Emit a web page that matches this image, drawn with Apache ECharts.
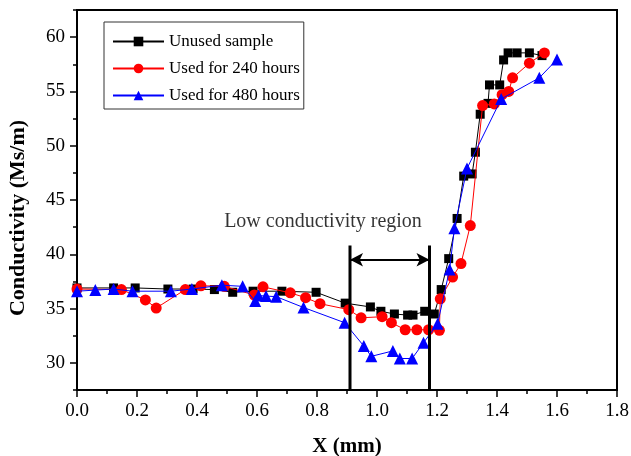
<!DOCTYPE html>
<html><head><meta charset="utf-8">
<script src="https://cdn.jsdelivr.net/npm/echarts@6/dist/echarts.min.js"></script>
<style>html,body{margin:0;padding:0;background:#fff}#c{width:631px;height:456px}</style>
</head><body><div id="c"></div>
<script>
// ---- data ----
const seriesNames = ['Unused sample', 'Used for 240 hours', 'Used for 480 hours'];

const unusedX = [0, 0.122, 0.194, 0.303, 0.387, 0.458, 0.519, 0.587, 0.683, 0.797, 0.894, 0.978, 1.013, 1.058, 1.102, 1.12, 1.159, 1.191, 1.214, 1.239, 1.267, 1.289, 1.317, 1.328, 1.344, 1.370, 1.375, 1.409, 1.422, 1.437, 1.467, 1.508, 1.55];
const unusedY = [36.9, 36.9, 36.9, 36.8, 36.8, 36.75, 36.5, 36.6, 36.6, 36.5, 35.5, 35.15, 34.75, 34.5, 34.4, 34.4, 34.75, 34.5, 36.75, 39.6, 43.3, 47.2, 47.4, 49.4, 52.9, 53.9, 55.6, 55.6, 57.9, 58.55, 58.55, 58.55, 58.3];

const used240X = [0, 0.148, 0.228, 0.264, 0.361, 0.413, 0.491, 0.591, 0.62, 0.711, 0.762, 0.81, 0.906, 0.947, 1.017, 1.048, 1.094, 1.133, 1.172, 1.208, 1.211, 1.252, 1.28, 1.311, 1.352, 1.391, 1.417, 1.439, 1.452, 1.508, 1.558];
const used240Y = [36.8, 36.75, 35.8, 35.05, 36.75, 37.1, 37.05, 36.25, 37.0, 36.45, 36.0, 35.45, 34.9, 34.15, 34.25, 33.7, 33.05, 33.05, 33.05, 33.0, 35.9, 37.9, 39.15, 42.65, 53.7, 53.85, 54.7, 55.0, 56.25, 57.6, 58.55];

const used480X = [0, 0.061, 0.122, 0.185, 0.313, 0.383, 0.483, 0.552, 0.594, 0.605, 0.63, 0.664, 0.755, 0.892, 0.956, 0.981, 1.053, 1.076, 1.117, 1.155, 1.202, 1.242, 1.258, 1.3, 1.414, 1.541, 1.6];
const used480Y = [36.6, 36.7, 36.8, 36.6, 36.6, 36.8, 37.15, 37.05, 35.7, 36.2, 36.15, 36.1, 35.1, 33.7, 31.55, 30.6, 31.1, 30.4, 30.4, 31.85, 33.6, 38.6, 42.4, 47.9, 54.3, 56.25, 57.95];

const xRange = [0, 1.8];
const xStep = 0.2;
const yRange = [27.5, 62.5];
const yTickValues = [30, 35, 40, 45, 50, 55, 60];
const yMinorValues = [27.5, 32.5, 37.5, 42.5, 47.5, 52.5, 57.5, 62.5];

const regionBoundsX = [0.91, 1.175];
const regionLineY = [27.5, 40.8];
const arrowY = 39.5;
const annotationText = 'Low conductivity region';
const annotationPos = [0.82, 43.0];

// ---- chart ----
const F = "'Liberation Serif', 'Times New Roman', serif";
const zip = (xs, ys) => xs.map((x, i) => [x, ys[i]]);
const colors = ['#000000', '#ff0000', '#0000ff'];
const symbols = ['rect', 'circle', 'triangle'];
const sizes = [9, 11, 12];
const xsAll = [unusedX, used240X, used480X];
const ysAll = [unusedY, used240Y, used480Y];

const dataSeries = seriesNames.map((n, i) => ({
  name: n, type: 'line', data: zip(xsAll[i], ysAll[i]),
  symbol: symbols[i], symbolSize: sizes[i],
  itemStyle: { color: colors[i] },
  lineStyle: { color: colors[i], width: 1 },
  z: 3 + i, animation: false
}));

const regionSeries = regionBoundsX.map(bx => ({
  type: 'line', data: regionLineY.map(v => [bx, v]), symbol: 'none',
  lineStyle: { color: '#000', width: 3 }, z: 10, silent: true, animation: false
}));

const arrowSeries = {
  type: 'line', data: [], silent: true, animation: false,
  markLine: {
    silent: true, animation: false, symbol: ['arrow', 'arrow'], symbolSize: [10, 13],
    lineStyle: { color: '#000', width: 2, type: 'solid' },
    itemStyle: { color: '#000' },
    label: { show: false }, emphasis: { disabled: true },
    data: [[{ coord: [regionBoundsX[0], arrowY] }, { coord: [regionBoundsX[1], arrowY] }]]
  }
};

const textSeries = {
  type: 'scatter', data: [annotationPos], symbolSize: 0, silent: true, animation: false,
  label: { show: true, position: 'inside', formatter: annotationText,
    fontFamily: F, fontSize: 20, color: '#000' }
};

const chart = echarts.init(document.getElementById('c'), null, { renderer: 'canvas' });
chart.setOption({
  backgroundColor: '#fff',
  animation: false,
  grid: { left: 77, top: 10, width: 540, height: 380, containLabel: false, outerBoundsMode: 'none',
    show: true, borderColor: '#000', borderWidth: 2, backgroundColor: 'transparent' },
  legend: {
    data: seriesNames, orient: 'vertical', left: 104, top: 22,
    padding: [11, 4, 5, 8], itemGap: 10, itemWidth: 51, itemHeight: 12,
    borderColor: '#333', borderWidth: 1, borderRadius: 0,
    textStyle: { fontFamily: F, fontSize: 17, color: '#000' },
    selectedMode: false
  },
  xAxis: {
    type: 'value', min: xRange[0], max: xRange[1], interval: xStep,
    name: 'X (mm)', nameLocation: 'middle', nameGap: 46,
    nameTextStyle: { fontFamily: F, fontSize: 21, fontWeight: 'bold', color: '#000' },
    axisLine: { show: true, onZero: false, lineStyle: { color: '#000', width: 2 } },
    axisTick: { show: true, inside: false, length: 7, lineStyle: { color: '#000', width: 1.5 } },
    minorTick: { show: true, splitNumber: 2, length: 4, lineStyle: { color: '#000', width: 1.5 } },
    axisLabel: { fontFamily: F, fontSize: 19, color: '#000', margin: 12, formatter: v => v.toFixed(1) },
    splitLine: { show: false }
  },
  yAxis: [{
    type: 'value', min: yRange[0], max: yRange[1],
    name: 'Conductivity (Ms/m)', nameLocation: 'middle', nameGap: 48,
    nameTextStyle: { fontFamily: F, fontSize: 22, fontWeight: 'bold', color: '#000', padding: [0, 36, 0, 0] },
    axisLine: { show: true, onZero: false, lineStyle: { color: '#000', width: 2 } },
    axisTick: { show: true, inside: false, length: 7, customValues: yTickValues, lineStyle: { color: '#000', width: 1.5 } },
    axisLabel: { customValues: yTickValues, fontFamily: F, fontSize: 19, color: '#000', margin: 12 },
    splitLine: { show: false }
  }, {
    type: 'value', min: yRange[0], max: yRange[1], position: 'left',
    axisLine: { show: false },
    axisTick: { show: true, inside: false, length: 4, customValues: yMinorValues, lineStyle: { color: '#000', width: 1.5 } },
    axisLabel: { show: false }, splitLine: { show: false }
  }],
  series: [...dataSeries, ...regionSeries, arrowSeries, textSeries]
});
</script></body></html>
